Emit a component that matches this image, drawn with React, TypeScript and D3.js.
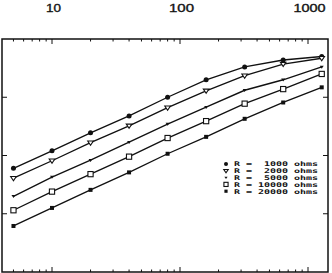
import React, { useEffect, useRef } from "react";
import * as d3 from "d3";

const xValues = [5, 10, 20, 40, 80, 160, 320, 640, 1280];
const seriesA = [1.78, 2.08, 2.39, 2.68, 3.0, 3.3, 3.52, 3.64, 3.7];
const seriesB = [1.61, 1.91, 2.22, 2.51, 2.82, 3.11, 3.37, 3.57, 3.67];
const seriesC = [1.3, 1.63, 1.92, 2.23, 2.54, 2.83, 3.12, 3.3, 3.52];
const seriesD = [1.06, 1.38, 1.68, 1.98, 2.3, 2.59, 2.89, 3.14, 3.4];
const seriesE = [0.79, 1.1, 1.41, 1.71, 2.03, 2.32, 2.63, 2.91, 3.17];
const legendNames = ["R =  1000 ohms", "R =  2000 ohms", "R =  5000 ohms", "R = 10000 ohms", "R = 20000 ohms"];
const markerKinds = ["circle", "triOpen", "triFilled", "squareOpen", "squareFilled"];
const topTickLabels = [10, 100, 1000];
const yTicks = [1, 2, 3];

const W = 332;
const H = 273;

export default function App() {
  const ref = useRef<SVGSVGElement>(null);
  useEffect(() => {
    const svg = d3.select(ref.current);
    svg.selectAll("*").remove();
    const left = 2, right = 328, top = 39, bottom = 272;
    const x = d3.scaleLog().domain([10, 1000]).range([52, 308]);
    const xDomain = [x.invert(left), x.invert(right)];
    const y = d3.scaleLinear().domain([0, 4]).range([bottom, top]);

    svg.append("rect").attr("x", left).attr("y", top).attr("width", right - left).attr("height", bottom - top)
      .attr("fill", "none").attr("stroke", "#111").attr("stroke-width", 1.5);

    const xTicks: { v: number; major: boolean }[] = [];
    for (let dec = 1; dec <= 1000; dec *= 10) {
      for (let k = 1; k <= 9; k++) {
        const v = dec * k;
        if (v >= xDomain[0] && v <= xDomain[1]) xTicks.push({ v, major: k === 1 });
      }
    }
    const g = svg.append("g").attr("stroke", "#111").attr("stroke-width", 1);
    xTicks.forEach((t) => {
      const px = x(t.v);
      const len = t.major ? 5 : 2.5;
      g.append("line").attr("x1", px).attr("x2", px).attr("y1", top).attr("y2", top + len);
      g.append("line").attr("x1", px).attr("x2", px).attr("y1", bottom).attr("y2", bottom - len);
    });
    yTicks.forEach((v) => {
      const py = y(v);
      g.append("line").attr("x1", left).attr("x2", left + 5).attr("y1", py).attr("y2", py);
      g.append("line").attr("x1", right).attr("x2", right - 5).attr("y1", py).attr("y2", py);
    });

    const labelLen: Record<number, number> = { 10: 15, 100: 25, 1000: 32 };
    svg.selectAll("text.top").data(topTickLabels).enter().append("text")
      .attr("x", (d) => x(d) + 1.5).attr("y", 11.5).attr("text-anchor", "middle")
      .attr("font-family", "Liberation Sans, Arial, sans-serif").attr("font-size", 10)
      .attr("textLength", (d) => labelLen[d]).attr("lengthAdjust", "spacingAndGlyphs")
      .attr("fill", "#111").attr("stroke", "#111").attr("stroke-width", 0.3)
      .text((d) => String(d));

    const allSeries = [seriesA, seriesB, seriesC, seriesD, seriesE];
    const line = d3.line<number>().x((_, i) => x(xValues[i])).y((d) => y(d));

    const drawMarker = (sel: any, kind: string, cx: number, cy: number, s: number) => {
      if (kind === "circle") {
        sel.append("circle").attr("cx", cx).attr("cy", cy).attr("r", 2.5 * s).attr("fill", "#111");
      } else if (kind === "triOpen") {
        const r = 2.8 * s;
        sel.append("path").attr("d", `M${cx - r},${cy - r * 0.6}L${cx + r},${cy - r * 0.6}L${cx},${cy + r * 0.9}Z`)
          .attr("fill", "#fff").attr("stroke", "#111").attr("stroke-width", 1.1);
      } else if (kind === "triFilled") {
        const r = 2.0 * s;
        sel.append("path").attr("d", `M${cx - r},${cy - r * 0.6}L${cx + r},${cy - r * 0.6}L${cx},${cy + r * 0.9}Z`)
          .attr("fill", "#111");
      } else if (kind === "squareOpen") {
        const r = 2.6 * s;
        sel.append("rect").attr("x", cx - r).attr("y", cy - r).attr("width", 2 * r).attr("height", 2 * r)
          .attr("fill", "#fff").attr("stroke", "#111").attr("stroke-width", 1.1);
      } else {
        const r = 2.0 * s;
        sel.append("rect").attr("x", cx - r).attr("y", cy - r).attr("width", 2 * r).attr("height", 2 * r)
          .attr("fill", "#111");
      }
    };

    allSeries.forEach((s, si) => {
      svg.append("path").attr("d", line(s) as string).attr("fill", "none")
        .attr("stroke", "#111").attr("stroke-width", 1.35);
      const mg = svg.append("g");
      s.forEach((v, i) => drawMarker(mg, markerKinds[si], x(xValues[i]), y(v), 1));
    });

    const lg = svg.append("g");
    legendNames.forEach((name, i) => {
      const cy = 164 + i * 6.8;
      drawMarker(lg, markerKinds[i], 226, cy, 0.8);
      lg.append("text").attr("x", 234).attr("y", cy + 2.4)
        .attr("font-family", "DejaVu Sans Mono, Liberation Mono, monospace").attr("font-weight", "bold")
        .attr("font-size", 6.4).attr("fill", "#111")
        .attr("textLength", 84).attr("lengthAdjust", "spacingAndGlyphs")
        .style("white-space", "pre").text(name);
    });
  }, []);

  return (
    <div style={{ position: "fixed", left: 0, top: 0, width: W, height: H, background: "#fff" }}>
      <svg ref={ref} width={W} height={H} style={{ display: "block" }} />
    </div>
  );
}
